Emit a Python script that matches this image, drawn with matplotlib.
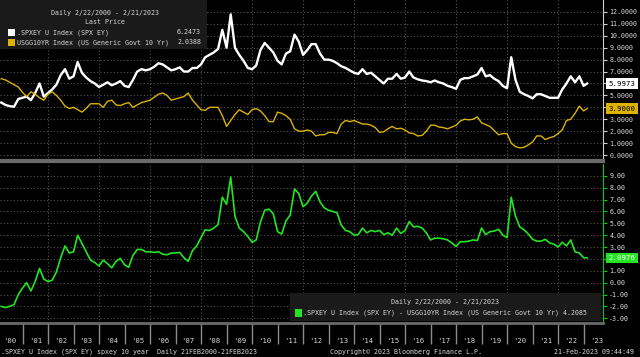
import numpy as np
import pandas as pd
import matplotlib
matplotlib.use('Agg')
import matplotlib.pyplot as plt
import matplotlib.transforms as mtransforms
from matplotlib.patches import Rectangle
from matplotlib.ticker import FormatStrFormatter

plt.rcParams['font.family'] = ['DejaVu Sans Mono']
plt.rcParams['axes.unicode_minus'] = False

# bi-monthly readings (Mar 2000 .. Jan 2023) + last day 21 Feb 2023
dates = list(pd.date_range('2000-03-01', '2023-01-01', freq='2MS')) + [pd.Timestamp('2023-02-21')]

# .SPXEY U Index (SPX EY)
spx_ey = [4.4, 4.2, 4.1, 4.05, 4.7,
          4.8, 4.9, 4.6, 5.2, 6.0, 4.9,
          5.2, 5.5, 5.9, 6.7, 7.2, 6.4,
          6.6, 7.8, 6.9, 6.5, 6.2, 6.0,
          5.7, 5.9, 6.1, 5.85, 6.0, 6.2,
          5.8, 5.7, 6.3, 7.0, 7.2, 7.1,
          7.2, 7.4, 7.7, 7.6, 7.35, 7.1,
          7.2, 7.35, 7.0, 7.0, 7.3, 7.3,
          7.6, 8.2, 8.4, 8.6, 8.9, 10.5,
          9.0, 11.8, 9.0, 8.4, 7.9, 7.3,
          7.2, 7.5, 8.8, 9.4, 9.0, 8.6,
          7.9, 7.6, 8.5, 8.7, 10.1, 9.5,
          8.4, 8.8, 9.3, 9.3, 8.5, 8.0,
          8.0, 7.9, 7.7, 7.45, 7.3, 7.1,
          6.9, 6.8, 7.2, 6.8, 6.9, 6.6,
          6.3, 6.0, 6.4, 6.4, 6.8, 6.4,
          6.5, 7.0, 6.5, 6.35, 6.25, 6.2,
          6.1, 6.25, 6.1, 6.0, 5.8, 5.7,
          5.55, 6.3, 6.45, 6.45, 6.6, 6.75,
          7.3, 6.6, 6.7, 6.4, 6.2, 5.8,
          5.6, 8.2, 6.3, 5.3, 5.1, 4.95,
          4.75, 5.1, 5.1, 4.95, 4.8, 4.8,
          4.8, 5.5, 6.0, 6.6, 6.1, 6.6,
          5.8, 5.9973]

# USGG10YR Index (US Generic Govt 10 Yr)
ust10 = [6.4, 6.3, 6.1, 5.9, 5.7,
         5.25, 4.9, 5.3, 5.1, 4.8, 4.6,
         5.1, 5.3, 5.0, 4.6, 4.1, 3.9,
         4.0, 3.8, 3.6, 3.9, 4.3, 4.3,
         4.3, 4.0, 4.5, 4.6, 4.2, 4.15,
         4.3, 4.4, 4.0, 4.2, 4.4, 4.5,
         4.6, 4.85, 5.1, 5.2, 5.0, 4.6,
         4.7, 4.8, 4.9, 5.2, 4.6, 4.2,
         3.8, 3.75, 4.0, 4.0, 4.0, 3.3,
         2.4, 2.9, 3.4, 3.8, 3.6, 3.4,
         3.8, 3.9, 3.7, 3.3, 2.8, 2.8,
         3.6, 3.5, 3.3, 3.0, 2.2, 2.0,
         2.0, 2.1, 2.0, 1.6, 1.7, 1.7,
         1.9, 1.9, 1.8, 2.6, 2.9, 2.8,
         2.9, 2.75, 2.6, 2.6, 2.5, 2.3,
         1.9, 1.95, 2.2, 2.4, 2.2, 2.25,
         2.1, 1.85, 1.8, 1.6, 1.65, 2.0,
         2.5, 2.5, 2.35, 2.3, 2.2, 2.35,
         2.5, 2.85, 3.0, 2.95, 3.0, 3.2,
         2.7, 2.55, 2.4, 2.05, 1.7, 1.8,
         1.8, 1.0, 0.7, 0.6, 0.65, 0.85,
         1.1, 1.6, 1.6, 1.3, 1.45, 1.55,
         1.8, 2.1, 2.9, 3.0, 3.5, 4.1,
         3.7, 3.9]

spread = np.array(spx_ey) - np.array(ust10)

years = list(range(2000, 2024))
year_labels = ["'%02d" % (y % 100) for y in years]

W, H = 640, 357
FS = 4.8
TXT = '#d8d8d8'
YEL = '#dbb300'
GRN = '#22e622'
fig = plt.figure(figsize=(6.4, 3.57), dpi=100, facecolor='black')


def px_axes(x0, y0, x1, y1):
    return fig.add_axes([x0 / W, 1 - y1 / H, (x1 - x0) / W, (y1 - y0) / H])


def px(x, y):
    return x / W, 1 - y / H


ax1 = px_axes(0, 0, 603, 161)
ax2 = px_axes(0, 164, 603, 323)

xmin, xmax = pd.Timestamp('2000-02-13'), pd.Timestamp('2023-10-06')
grid_c = '#555555'

for ax in (ax1, ax2):
    ax.set_facecolor('black')
    ax.set_xlim(xmin, xmax)
    for s in ('left', 'top'):
        ax.spines[s].set_visible(False)
    ax.yaxis.tick_right()
    ax.yaxis.grid(True, color=grid_c, linestyle=(0, (1, 2)), linewidth=0.8)
    for y in range(2002, 2023, 2):
        ax.axvline(pd.Timestamp(f'{y}-01-01'), color=grid_c, linestyle=(0, (1, 2)), linewidth=0.8, zorder=0)
    ax.set_axisbelow(True)

# top panel
ax1.plot(dates, spx_ey, color='white', lw=1.7)
ax1.plot(dates, ust10, color=YEL, lw=1.0)
ax1.set_ylim(-0.5, 13.0)
ax1.set_yticks(range(0, 13))
ax1.yaxis.set_major_formatter(FormatStrFormatter('%.4f'))
ax1.tick_params(axis='y', colors='#d0d0d0', labelcolor=TXT, labelsize=FS, length=3, pad=1.5)
ax1.tick_params(axis='x', bottom=False, labelbottom=False)
ax1.spines['right'].set_color('#d0d0d0')
ax1.spines['bottom'].set_color('#6a6a6a')
ax1.spines['bottom'].set_linewidth(3)

# bottom panel
ax2.plot(dates, spread, color=GRN, lw=1.2)
ax2.set_ylim(-3.4, 10.0)
ax2.set_yticks(range(-3, 10))
ax2.yaxis.set_major_formatter(FormatStrFormatter('%.2f'))
ax2.tick_params(axis='y', colors='#00d000', labelcolor='#e0e0e0', labelsize=FS, length=3, pad=1.5)
ax2.spines['right'].set_color('#00d000')
ax2.spines['bottom'].set_color('#6a6a6a')
ax2.spines['bottom'].set_linewidth(2)

ax2.set_xticks([pd.Timestamp(f'{y}-01-01') for y in range(2001, 2024)])
ax2.set_xticklabels([])
ax2.set_xticks([pd.Timestamp(f'{y}-07-01') for y in years], minor=True)
ax2.set_xticklabels(year_labels, minor=True)
ax2.tick_params(axis='x', which='major', color='#8a8a8a', length=15, width=1, direction='out')
ax2.tick_params(axis='x', which='minor', length=0, pad=10.5, labelsize=FS + 0.4, labelcolor=TXT)

# last price tags
TAG = 5.3
tr1 = mtransforms.blended_transform_factory(ax1.transAxes, ax1.transData)
ax1.text(1.009, spx_ey[-1], '%.4f' % spx_ey[-1], transform=tr1, fontsize=TAG, color='black',
         va='center', ha='left', clip_on=False, zorder=5,
         bbox=dict(boxstyle='square,pad=0.3', fc='white', ec='none'))
ax1.text(1.009, ust10[-1], '%.4f' % ust10[-1], transform=tr1, fontsize=TAG, color='black',
         va='center', ha='left', clip_on=False, zorder=5,
         bbox=dict(boxstyle='square,pad=0.3', fc=YEL, ec='none'))
tr2 = mtransforms.blended_transform_factory(ax2.transAxes, ax2.transData)
ax2.text(1.009, 2.0976, '2.0976', transform=tr2, fontsize=TAG, color='white',
         va='center', ha='left', clip_on=False, zorder=5,
         bbox=dict(boxstyle='square,pad=0.3', fc=GRN, ec='none'))

# legend boxes
fig.add_artist(Rectangle(px(0, 49), 207 / W, 49 / H, transform=fig.transFigure, fc='#1a1a1a', ec='none'))
fig.text(*px(105, 12.5), 'Daily 2/22/2000 - 2/21/2023', color=TXT, fontsize=FS, ha='center', va='center')
fig.text(*px(105, 22.5), 'Last Price', color=TXT, fontsize=FS, ha='center', va='center')
fig.add_artist(Rectangle(px(8, 36), 7 / W, 7 / H, transform=fig.transFigure, fc='white', ec='none'))
fig.text(*px(17, 32.5), '.SPXEY U Index (SPX EY)', color=TXT, fontsize=FS, ha='left', va='center')
fig.text(*px(201, 32.5), '6.2473', color=TXT, fontsize=FS, ha='right', va='center')
fig.add_artist(Rectangle(px(8, 46), 7 / W, 7 / H, transform=fig.transFigure, fc=YEL, ec='none'))
fig.text(*px(17, 42.5), 'USGG10YR Index (US Generic Govt 10 Yr)', color=TXT, fontsize=FS, ha='left', va='center')
fig.text(*px(201, 42.5), '2.0388', color=TXT, fontsize=FS, ha='right', va='center')

fig.add_artist(Rectangle(px(290, 321), 311 / W, 28 / H, transform=fig.transFigure, fc='#1a1a1a', ec='none'))
fig.text(*px(445, 302), 'Daily 2/22/2000 - 2/21/2023', color=TXT, fontsize=FS, ha='center', va='center')
fig.add_artist(Rectangle(px(295, 317), 7 / W, 8 / H, transform=fig.transFigure, fc=GRN, ec='none'))
fig.text(*px(303, 313), '.SPXEY U Index (SPX EY) - USGG10YR Index (US Generic Govt 10 Yr) 4.2085',
         color=TXT, fontsize=FS, ha='left', va='center')

# footer
fig.text(*px(1, 352), '.SPXEY U Index (SPX EY) spxey 10 year  Daily 21FEB2000-21FEB2023',
         color=TXT, fontsize=FS, ha='left', va='center')
fig.text(*px(406, 352), 'Copyright\u00a9 2023 Bloomberg Finance L.P.', color=TXT, fontsize=FS,
         ha='center', va='center')
fig.text(*px(634, 352), '21-Feb-2023 09:44:49', color=TXT, fontsize=FS, ha='right', va='center')

fig.savefig('out.png', dpi=100, facecolor='black')
